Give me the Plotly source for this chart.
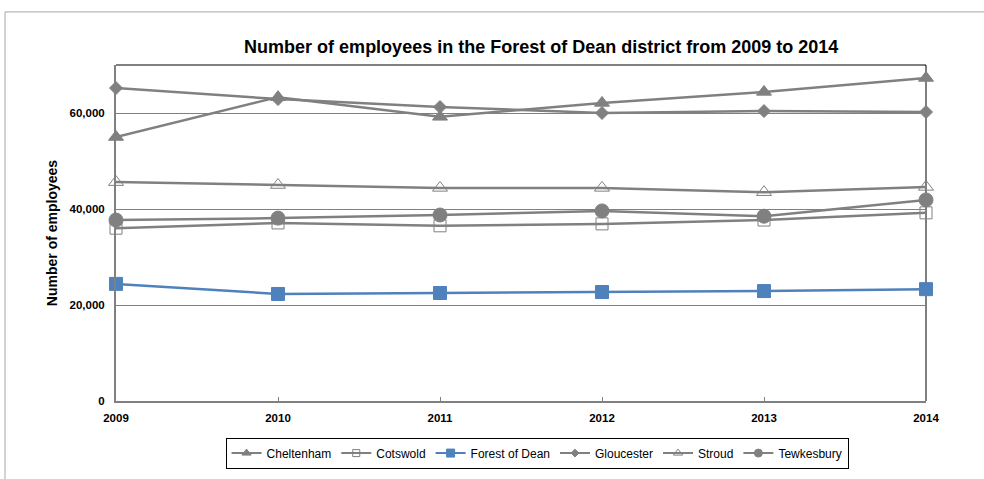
import plotly.graph_objects as go

# Data
years = [2009, 2010, 2011, 2012, 2013, 2014]
cheltenham = [55000, 63300, 59200, 62100, 64400, 67300]
cotswold = [36000, 37100, 36500, 36900, 37700, 39200]
forest_of_dean = [24400, 22300, 22500, 22700, 22900, 23300]
gloucester = [65200, 62900, 61250, 60000, 60400, 60200]
stroud = [45600, 45000, 44400, 44400, 43500, 44600]
tewkesbury = [37700, 38100, 38750, 39600, 38500, 41900]
y_ticks = [0, 20000, 40000, 60000]

GREY = "#808080"
BLUE = "#4F81BD"
FONT = "Liberation Sans, Arial"

# name, values, symbol, marker size on chart, marker size in legend, colour
series = [
    ("Cheltenham", cheltenham, "triangle-up", 13, 8, GREY),
    ("Cotswold", cotswold, "square-open", 12, 7, GREY),
    ("Forest of Dean", forest_of_dean, "square", 13, 8, BLUE),
    ("Gloucester", gloucester, "diamond", 10, 6, GREY),
    ("Stroud", stroud, "triangle-up-open", 13, 8, GREY),
    ("Tewkesbury", tewkesbury, "circle", 14, 8, GREY),
]

fig = go.Figure()
for name, vals, sym, size, lsize, col in series:
    fig.add_trace(go.Scatter(
        x=years, y=vals, name=name, mode="lines+markers", showlegend=False,
        line=dict(color=col, width=2.5),
        marker=dict(symbol=sym, size=size, color=col, line=dict(width=1, color=col)),
        cliponaxis=False,
    ))
# legend entries with smaller glyphs
for name, vals, sym, size, lsize, col in series:
    fig.add_trace(go.Scatter(
        x=[None], y=[None], name=name, mode="lines+markers",
        line=dict(color=col, width=2),
        marker=dict(symbol=sym, size=lsize, color=col, line=dict(width=1, color=col)),
    ))

fig.update_layout(
    width=984, height=479,
    paper_bgcolor="white", plot_bgcolor="white",
    margin=dict(l=116, r=58, t=65, b=78, autoexpand=False),
    font=dict(family=FONT, color="black"),
    title=dict(text="<b>Number of employees in the Forest of Dean district from 2009 to 2014</b>",
               x=0.55, xanchor="center", y=0.902, yanchor="middle",
               font=dict(size=18)),
    showlegend=True,
    legend=dict(orientation="h", x=0.5198, xanchor="center", y=-0.155, yanchor="middle",
                bordercolor="black", borderwidth=1, font=dict(size=12),
                itemwidth=30, tracegroupgap=0),
    xaxis=dict(range=[2009, 2014], tickvals=years, showgrid=False,
               showline=True, linecolor=GREY, linewidth=2,
               ticks="inside", ticklen=4, tickcolor=GREY,
               ticklabelstandoff=5,
               tickfont=dict(size=11.5, weight="bold"),
               zeroline=False),
    yaxis=dict(range=[0, 70000], tickvals=y_ticks,
               tickformat=",", showgrid=True, gridcolor=GREY, gridwidth=1,
               showline=True, linecolor=GREY, linewidth=2, zeroline=False,
               ticklabelstandoff=7,
               tickfont=dict(size=11.5, weight="bold"),
               title=dict(text="<b>Number of employees</b>", font=dict(size=14), standoff=9)),
)

# plot-area frame: top and right edges black
fig.add_shape(type="line", xref="paper", yref="paper", x0=0, x1=1, y0=1, y1=1,
              line=dict(color="black", width=1), layer="below")
fig.add_shape(type="line", xref="paper", yref="paper", x0=1, x1=1, y0=0, y1=1,
              line=dict(color="black", width=1), layer="below")
# outer chart border (partly visible)
fig.add_shape(type="line", xref="paper", yref="paper", x0=-0.137, x1=1.08, y0=1.158, y1=1.158,
              line=dict(color="#A6A6A6", width=1))
fig.add_shape(type="line", xref="paper", yref="paper", x0=-0.137, x1=-0.137, y0=1.158, y1=-0.25,
              line=dict(color="#A6A6A6", width=1))

fig.write_html("out.html", config={"displayModeBar": False},
               post_script="document.body.style.margin='0';")
